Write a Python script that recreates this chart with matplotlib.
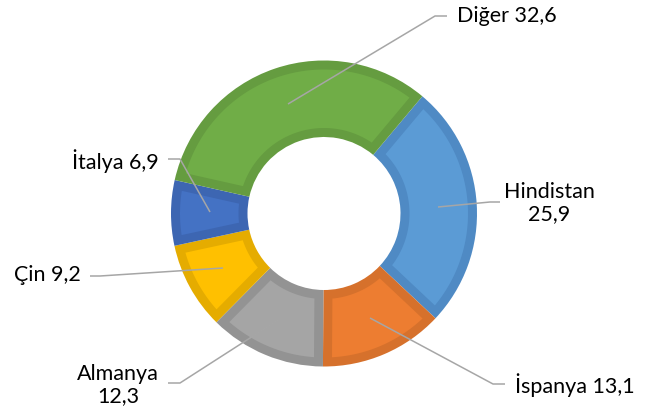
import numpy as np
import matplotlib.pyplot as plt
from matplotlib.patches import Polygon

labels = ['Hindistan', 'İspanya', 'Almanya', 'Çin', 'İtalya', 'Diğer']
values = [25.9, 13.1, 12.3, 9.2, 6.9, 32.6]
label_texts = ['Hindistan\n25,9', 'İspanya 13,1', 'Almanya\n12,3', 'Çin 9,2', 'İtalya 6,9', 'Diğer 32,6']

fill_colors = ['#5B9BD5', '#ED7D31', '#A5A5A5', '#FFC000', '#4472C4', '#70AD47']
edge_colors = ['#4F8AC4', '#D6712C', '#939393', '#E5AC00', '#3D66B2', '#659C40']

W, H = 662, 407
# label anchor positions (pixel coords, y downward) and alignment
label_pos = [(549, 203), (515, 385), (118, 385), (81, 275), (159, 161), (457, 16)]
label_ha = ['center', 'left', 'center', 'right', 'right', 'left']
leader_pts = [
    [(438, 207), (490, 202), (500, 202)],
    [(370, 318), (493, 384), (505, 384)],
    [(278, 320), (180, 383), (168, 383)],
    [(223, 268), (100, 276), (90, 276)],
    [(210, 212), (180, 159), (168, 159)],
    [(288, 104), (435, 16), (447, 16)],
]

fig = plt.figure(figsize=(W / 100, H / 100), dpi=100)
ax = fig.add_axes([0, 0, 1, 1])

cx, cy = 324, H - 213.5
R = 153
ring = R * 0.5
border = 9
wedges, _ = ax.pie(values, colors=edge_colors, startangle=50, counterclock=False,
                   center=(cx, cy), radius=R, frame=True,
                   wedgeprops=dict(width=ring, linewidth=0))
ax.set_xlim(0, W)
ax.set_ylim(0, H)
ax.set_aspect('equal')
ax.axis('off')

# inner lighter area of each slice, inset by the border width
for w, fc in zip(wedges, fill_colors):
    t1, t2 = np.radians(w.theta1), np.radians(w.theta2)
    ro = w.r - border
    ri = w.r - w.width + border
    ao = np.arcsin(border / ro)
    ai = np.arcsin(border / ri)
    th_o = np.linspace(t1 + ao, t2 - ao, 100)
    th_i = np.linspace(t2 - ai, t1 + ai, 100)
    xs = np.concatenate([cx + ro * np.cos(th_o), cx + ri * np.cos(th_i)])
    ys = np.concatenate([cy + ro * np.sin(th_o), cy + ri * np.sin(th_i)])
    ax.add_patch(Polygon(np.column_stack([xs, ys]), closed=True, facecolor=fc,
                         edgecolor='none', zorder=2))

for pts in leader_pts:
    xs = [p[0] for p in pts]
    ys = [H - p[1] for p in pts]
    ax.plot(xs, ys, color='#A6A6A6', lw=1.1, solid_capstyle='butt', zorder=3)

for txt, (x, y), ha in zip(label_texts, label_pos, label_ha):
    ax.text(x, H - y, txt, ha=ha, va='center', fontsize=15.5, family='Lato',
            color='#000000', linespacing=1.1, multialignment='center')

fig.savefig('out.png', dpi=100)
